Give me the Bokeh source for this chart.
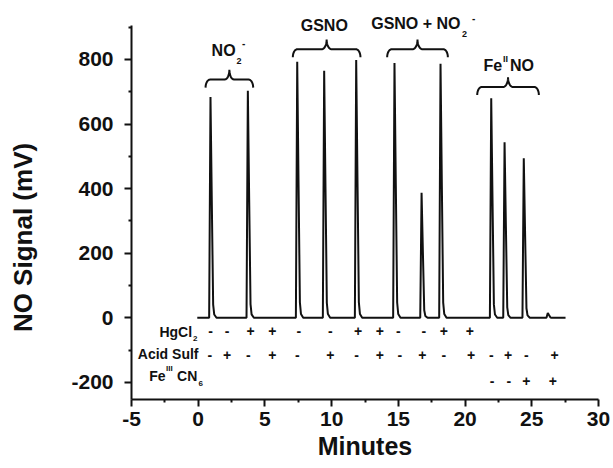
from bokeh.plotting import figure
from bokeh.models import FixedTicker
from bokeh.core.properties import value
from bokeh.embed import file_html
from bokeh.resources import INLINE
import math

# ---- data ----
peak_times = [0.92, 3.72, 7.42, 9.44, 11.84, 14.71, 16.74, 18.16, 21.96, 22.96, 24.40, 26.20]
peak_heights = [684, 703, 793, 765, 798, 789, 387, 787, 680, 544, 494, 15]
trace_start = -0.07
trace_end = 27.53

group_names = ["NO2-", "GSNO", "GSNO + NO2-", "FeIINO"]
brace_start = [0.55, 7.09, 14.16, 20.91]
brace_end = [4.12, 12.16, 18.71, 25.53]
brace_level = [738, 832, 832, 715]

hg_x = [0.92, 2.17, 3.92, 5.55, 7.54, 9.90, 11.99, 13.61, 15.00, 16.91, 18.41, 20.36]
hg_sign = ["-", "-", "+", "+", "-", "-", "+", "+", "-", "-", "+", "+"]
acid_x = [0.87, 2.17, 3.75, 5.55, 7.42, 9.90, 11.86, 13.61, 15.11, 16.79, 18.41, 20.46,
          21.96, 23.23, 24.60, 26.70]
acid_sign = ["-", "+", "-", "+", "-", "+", "-", "+", "-", "+", "-", "+", "-", "+", "-", "+"]
fe_x = [22.03, 23.28, 24.60, 26.58]
fe_sign = ["-", "-", "+", "+"]

x_ticks = [-5, 0, 5, 10, 15, 20, 25, 30]
x_minor = [-2.5, 2.5, 7.5, 12.5, 17.5, 22.5, 27.5]
y_ticks = [-200, 0, 200, 400, 600, 800]
y_minor = [-100, 100, 300, 500, 700, 900]

x_title = "Minutes"
y_title = "NO Signal (mV)"

# ---- figure ----
FONT = "Liberation Sans"
INK = "#111111"
p = figure(width=612, height=467, x_range=(-5, 30), y_range=(-253, 951.7),
           output_backend="svg", toolbar_location=None,
           min_border_left=131, min_border_right=14, min_border_top=10, min_border_bottom=68)
p.xgrid.visible = False
p.ygrid.visible = False
p.outline_line_color = None
p.background_fill_color = None
p.border_fill_color = None

p.axis.level = "overlay"
p.axis.axis_line_width = 2
p.axis.axis_line_color = INK
p.axis.major_tick_line_width = 2
p.axis.minor_tick_line_width = 2
p.axis.major_tick_line_color = INK
p.axis.minor_tick_line_color = INK
p.axis.major_tick_in = 0
p.axis.major_tick_out = 7
p.axis.minor_tick_in = 0
p.axis.minor_tick_out = 3
p.axis.major_label_text_font = FONT
p.axis.major_label_text_font_style = "bold"
p.axis.major_label_text_font_size = "21px"
p.axis.major_label_text_color = INK
p.axis.axis_label_text_font = FONT
p.axis.axis_label_text_font_style = "bold"
p.axis.axis_label_text_color = INK

p.xaxis.ticker = FixedTicker(ticks=x_ticks, minor_ticks=x_minor)
p.yaxis.ticker = FixedTicker(ticks=y_ticks, minor_ticks=y_minor)
p.xaxis.major_label_overrides = {t: str(t) for t in x_ticks}
p.yaxis.major_label_overrides = {t: str(t) for t in y_ticks}
p.yaxis.bounds = (-253, 905)
p.xaxis.major_label_standoff = 5
p.yaxis.major_label_standoff = 11

p.xaxis.axis_label = x_title
p.xaxis.axis_label_text_font_size = "25px"
p.xaxis.axis_label_standoff = 3
# trailing no-break spaces nudge the rotated title toward the reference's position
p.yaxis.axis_label = y_title + "\u00a0" * 9
p.yaxis.axis_label_text_font_size = "26px"
p.yaxis.axis_label_standoff = 30

# ---- trace ----
shape_dt = [-0.1, 0.0, 0.1, 0.2, 0.28, 0.45]
shape_f = [0.0, 1.0, 0.52, 0.06, 0.015, 0.0]
xs = [trace_start]
ys = [0.0]
for t, h in zip(peak_times, peak_heights):
    for d, f in zip(shape_dt, shape_f):
        xs.append(t + d)
        ys.append(h * f)
xs.append(trace_end)
ys.append(0.0)
p.line(xs, ys, line_color=INK, line_width=2)

# ---- braces ----
def brace(x0, x1, y, d=25.0, u=30.0, r=0.35):
    xc = (x0 + x1) / 2
    n = 8
    bx, by = [], []
    for i in range(n + 1):
        th = math.pi / 2 * i / n
        bx.append(x0 + r - r * math.cos(th)); by.append(y - d + d * math.sin(th))
    for i in range(n + 1):
        ph = math.pi / 2 * i / n
        bx.append(xc - r + r * math.sin(ph)); by.append(y + u - u * math.cos(ph))
    for i in range(n, -1, -1):
        ph = math.pi / 2 * i / n
        bx.append(xc + r - r * math.sin(ph)); by.append(y + u - u * math.cos(ph))
    for i in range(n, -1, -1):
        th = math.pi / 2 * i / n
        bx.append(x1 - r + r * math.cos(th)); by.append(y - d + d * math.sin(th))
    return bx, by

bxs, bys = [], []
for a, b, lv in zip(brace_start, brace_end, brace_level):
    bx, by = brace(a, b, lv)
    bxs.append(bx); bys.append(by)
p.multi_line(bxs, bys, line_color=INK, line_width=2)

def txt(x, y, s, size, align="left", baseline="middle"):
    p.text(x=[x], y=[y], text=[s], text_font=value(FONT), text_font_style="bold",
           text_font_size=size, text_align=align, text_baseline=baseline,
           text_color=INK)

# group labels
txt(2.80, 828, "NO", "16px", "right")
txt(2.87, 794, "2", "9px")
txt(3.40, 850, "-", "10px", "center")
txt(9.45, 905, "GSNO", "16px", "center")
txt(19.66, 910, "GSNO + NO", "16px", "right")
txt(19.77, 878, "2", "9px")
txt(20.65, 930, "-", "10px", "center")
txt(22.78, 781, "Fe", "16px", "right")
txt(22.84, 800, "II", "9px")
txt(23.37, 781, "NO", "16px", "left")

# row labels
txt(-0.46, -44, "HgCl", "14px", "right")
txt(-0.39, -64, "2", "8px")
txt(0.02, -113, "Acid Sulf", "14px", "right")
txt(-2.45, -179, "Fe", "14px", "right")
txt(-2.41, -158, "III", "8px")
txt(-0.07, -179, "CN", "14px", "right")
txt(0.02, -204, "6", "8px")

# +/- table
for xs_, ss, yy in ((hg_x, hg_sign, -40), (acid_x, acid_sign, -115), (fe_x, fe_sign, -197)):
    p.text(x=xs_, y=[yy] * len(xs_), text=ss, text_font=value(FONT), text_font_style="bold",
           text_font_size="14px", text_align="center", text_baseline="middle",
           text_color=INK)

open("out.html", "w").write(file_html(p, INLINE))
